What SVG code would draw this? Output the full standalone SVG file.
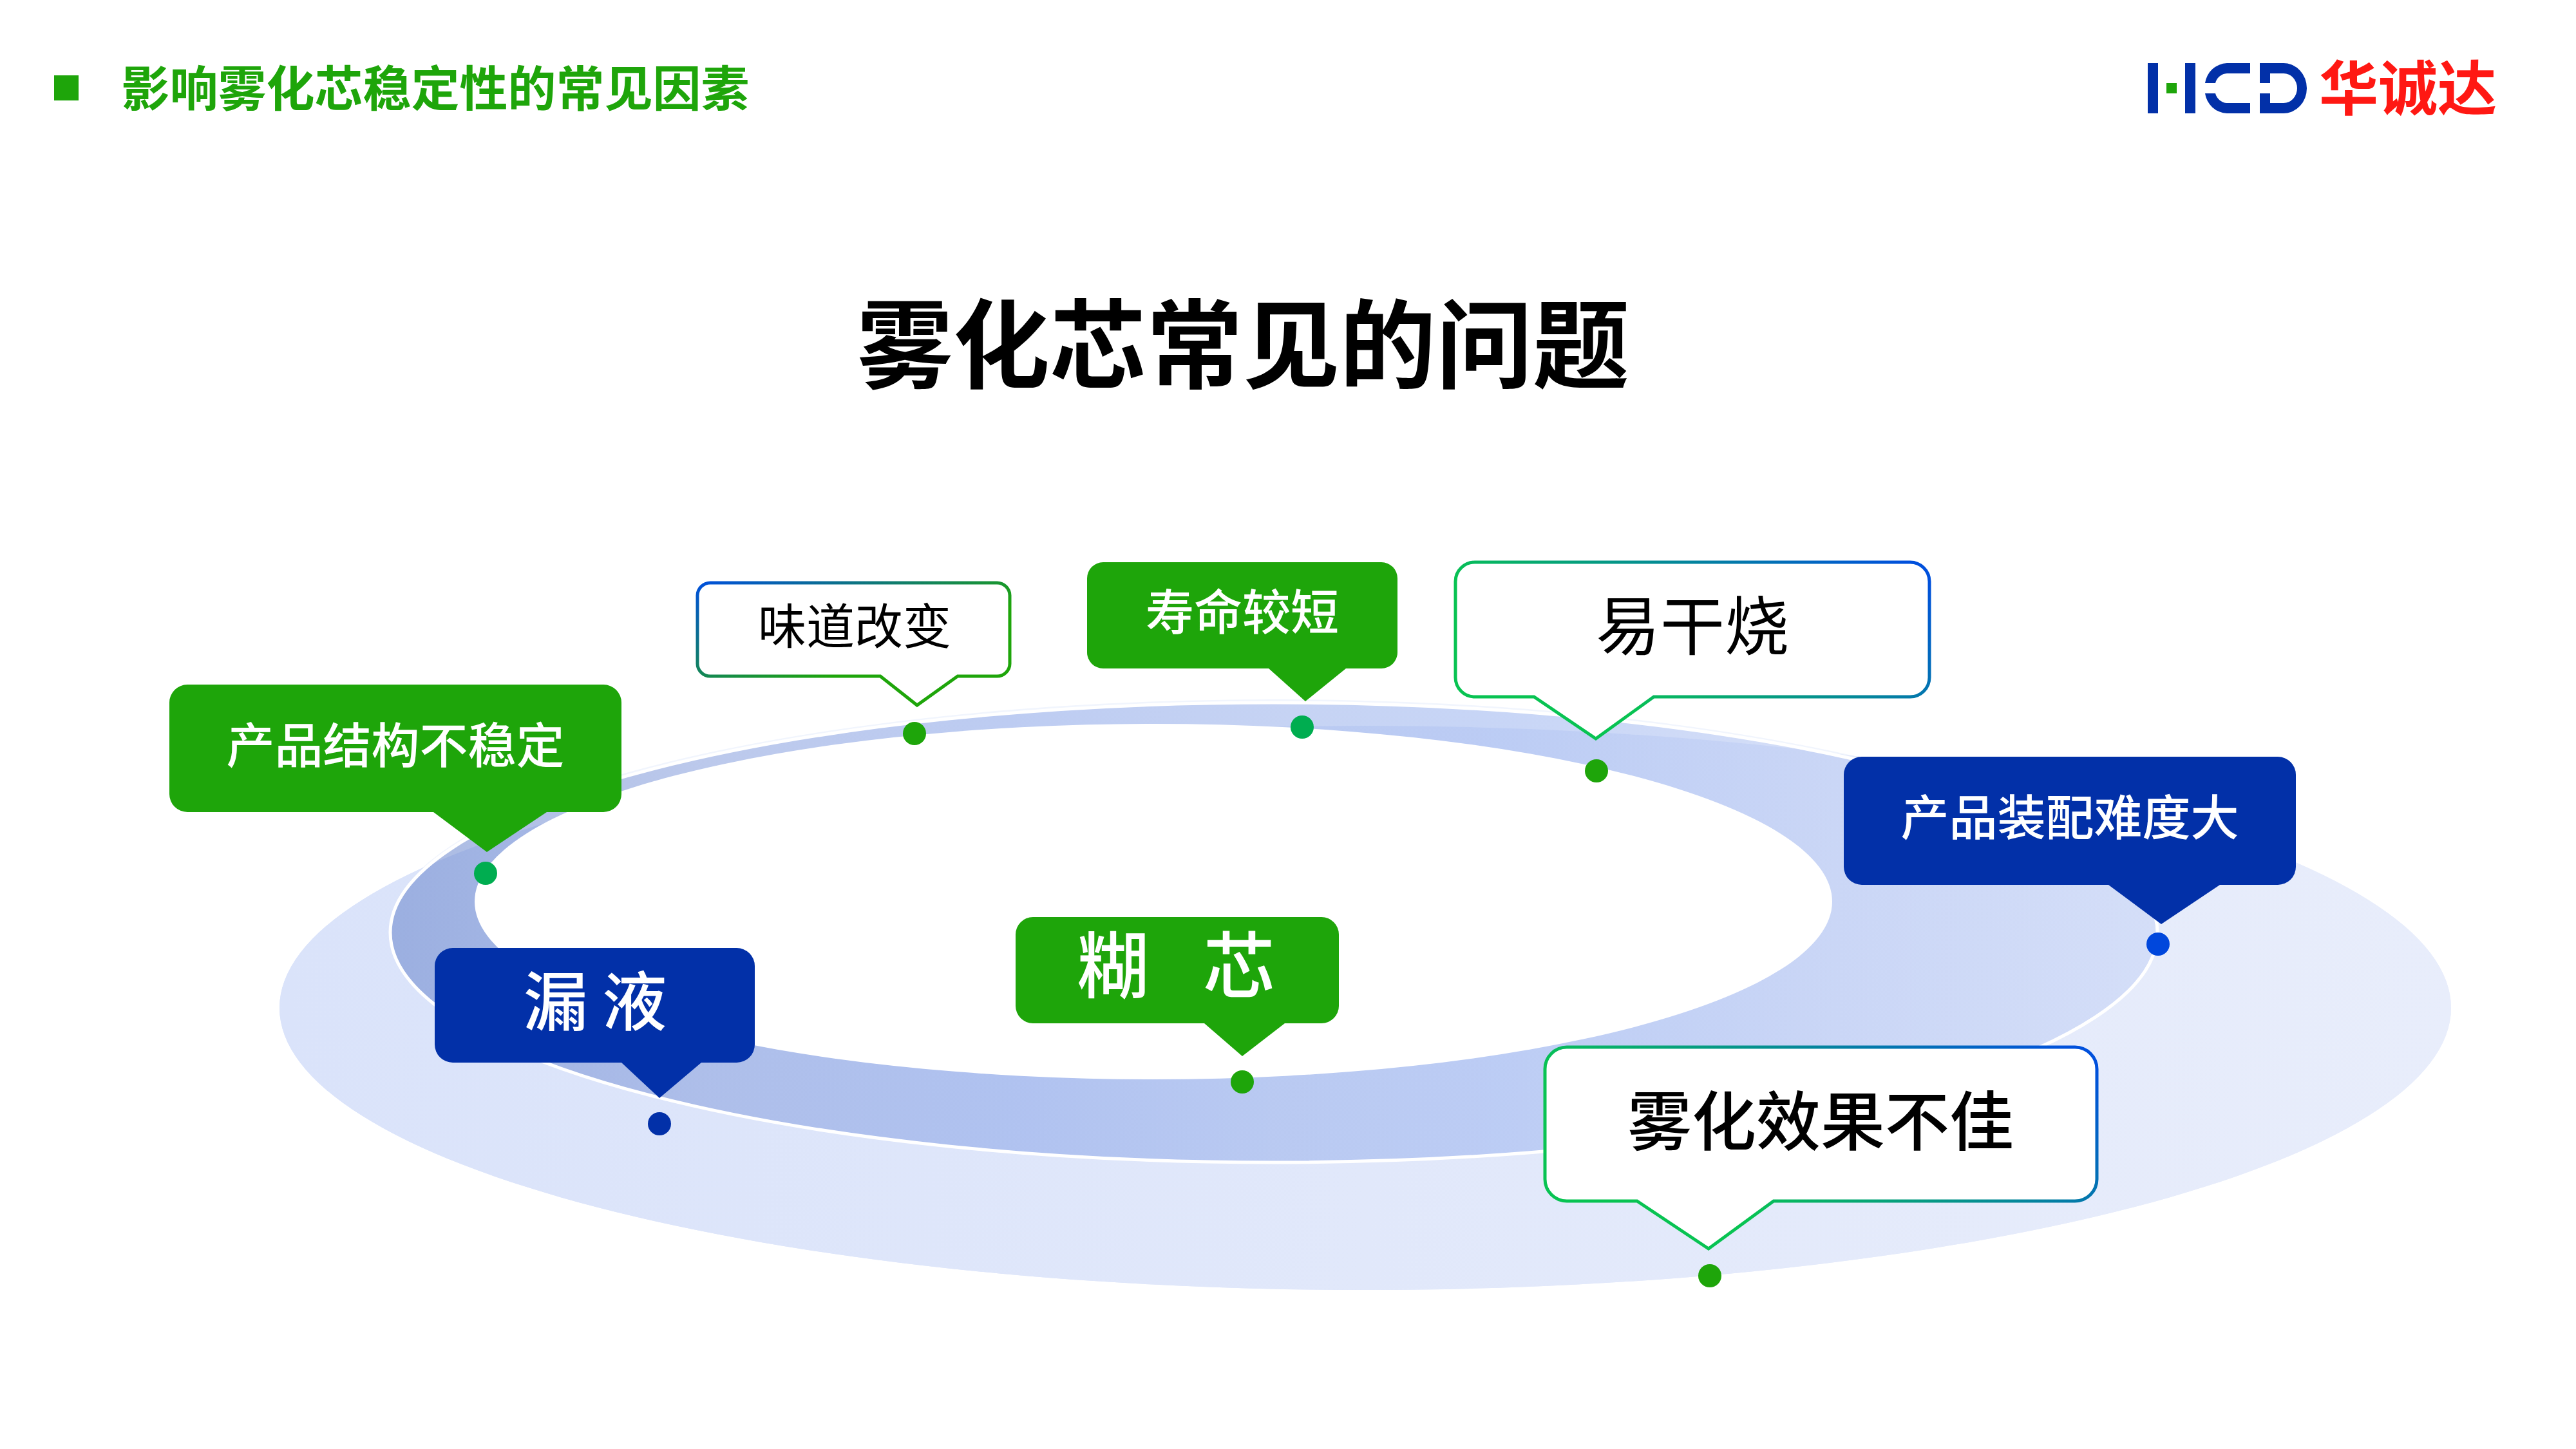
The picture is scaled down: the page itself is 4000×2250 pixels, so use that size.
<svg xmlns="http://www.w3.org/2000/svg" width="4000" height="2250" viewBox="0 0 4000 2250">
<style>
text{font-family:"Noto Sans CJK SC","Liberation Sans",sans-serif;text-anchor:middle}
.w{fill:#fff;font-weight:500}
.k{fill:#000}
.g{fill:#1ea50a}
.b{fill:#0230a8}
.e{fill:#00ad50}
.logo{fill:#0230a8}
</style>
<defs>
<linearGradient id="outerFill" gradientUnits="userSpaceOnUse" x1="434" y1="0" x2="3806" y2="0"><stop offset="0" stop-color="#dae3fa"/><stop offset="1" stop-color="#e8edfb"/></linearGradient>
<linearGradient id="midFill" gradientUnits="userSpaceOnUse" x1="607" y1="0" x2="3350" y2="0">
<stop offset="0" stop-color="#718ccf" stop-opacity=".6"/><stop offset=".18" stop-color="#8fa5df" stop-opacity=".6"/><stop offset=".35" stop-color="#91aae9" stop-opacity=".6"/><stop offset=".51" stop-color="#a0b6ec" stop-opacity=".6"/><stop offset=".62" stop-color="#a2b9f0" stop-opacity=".6"/><stop offset=".82" stop-color="#b9c9f3" stop-opacity=".6"/><stop offset="1" stop-color="#c8d5f6" stop-opacity=".6"/></linearGradient>
<linearGradient id="strokeA" x1="0" y1="0" x2=".6" y2=".6"><stop offset="0" stop-color="#0050dc"/><stop offset="1" stop-color="#1ea50a"/></linearGradient>
<linearGradient id="strokeB" x1=".2" y1=".5" x2="1" y2=".1"><stop offset="0" stop-color="#08c352"/><stop offset="1" stop-color="#0050dc"/></linearGradient>
</defs>
<g id="header">
<rect class="g" x="84" y="117" width="38" height="39"/>
<text x="676" y="165" font-size="75" font-weight="700" class="g">影响雾化芯稳定性的常见因素</text>
</g>
<g id="logo">
<rect class="logo" x="3335" y="98" width="16" height="78"/>
<rect class="logo" x="3393" y="98" width="16" height="78"/>
<rect class="g" x="3364" y="129" width="16" height="16"/>
<path class="logo" d="M3494 98H3458A36 36 0 0 0 3424 129H3440A20 20 0 0 1 3458 114H3494ZM3494 176H3458A36 36 0 0 1 3424 145H3440A20 20 0 0 0 3458 160H3494Z"/>
<path class="logo" d="M3509 98H3546A36 39 0 0 1 3546 176H3509V145H3525V160H3546A21 23 0 0 0 3546 114H3525V129H3509Z"/>
<text x="3739" y="171" font-size="92" font-weight="700" fill="#ff1813">华诚达</text>
</g>
<text id="title" x="1930" y="591" font-size="150" font-weight="700" fill="#000">雾化芯常见的问题</text>
<g id="rings">
<ellipse cx="1978" cy="1443" rx="1372" ry="357" fill="#f1f5fd"/>
<ellipse cx="2120" cy="1565" rx="1686" ry="438" fill="url(#outerFill)"/>
<ellipse cx="1978" cy="1448" rx="1372" ry="357" fill="#fff"/>
<path d="M434 1565A1686 438 0 0 1 3806 1565A1686 438 0 0 1 434 1565Z" fill="url(#outerFill)"/>
<ellipse cx="1978" cy="1448" rx="1372" ry="357" fill="url(#midFill)" stroke="#fff" stroke-width="5"/>
<ellipse cx="1791" cy="1400" rx="1054" ry="276" fill="#fff"/>
</g>
<g id="node-stability">
<path class="g" d="M291 1063H937A28 28 0 0 1 965 1091V1233A28 28 0 0 1 937 1261H849L756 1323L673 1261H291A28 28 0 0 1 263 1233V1091A28 28 0 0 1 291 1063Z"/>
<text class="w" x="614" y="1185" font-size="75">产品结构不稳定</text>
<circle class="e" cx="754" cy="1356" r="18"/>
</g>
<g id="node-taste">
<path fill="#fff" stroke="url(#strokeA)" stroke-width="5" d="M1104 905H1547A20 20 0 0 1 1568 926V1029A20 20 0 0 1 1547 1050H1487L1424 1095L1367 1050H1104A20 20 0 0 1 1083 1029V926A20 20 0 0 1 1104 905Z"/>
<text class="k" x="1327" y="1000" font-size="75">味道改变</text>
<circle class="g" cx="1420" cy="1139" r="18"/>
</g>
<g id="node-life">
<path class="g" d="M1713 873H2145A25 25 0 0 1 2170 898V1013A25 25 0 0 1 2145 1038H2090L2027 1089L1970 1038H1713A25 25 0 0 1 1688 1013V898A25 25 0 0 1 1713 873Z"/>
<text class="w" x="1929" y="978" font-size="75">寿命较短</text>
<circle class="e" cx="2022" cy="1129" r="18"/>
</g>
<g id="node-dryburn">
<path fill="#fff" stroke="url(#strokeB)" stroke-width="5" d="M2290 873H2966A30 30 0 0 1 2996 903V1052A30 30 0 0 1 2966 1082H2568L2478 1147L2382 1082H2290A30 30 0 0 1 2260 1052V903A30 30 0 0 1 2290 873Z"/>
<text class="k" x="2628" y="1009" font-size="100">易干烧</text>
<circle class="g" cx="2479" cy="1197" r="18"/>
</g>
<g id="node-assembly">
<path class="b" d="M2891 1175H3537A28 28 0 0 1 3565 1203V1346A28 28 0 0 1 3537 1374H3447L3356 1435L3274 1374H2891A28 28 0 0 1 2863 1346V1203A28 28 0 0 1 2891 1175Z"/>
<text class="w" x="3214" y="1297" font-size="75">产品装配难度大</text>
<circle cx="3351" cy="1466" r="18" fill="#0047dc"/>
</g>
<g id="node-leak">
<path class="b" d="M703 1472H1144A28 28 0 0 1 1172 1500V1622A28 28 0 0 1 1144 1650H1089L1024 1705L965 1650H703A28 28 0 0 1 675 1622V1500A28 28 0 0 1 703 1472Z"/>
<text class="w" x="924" y="1592" font-size="100">漏 液</text>
<circle class="b" cx="1024" cy="1745" r="18"/>
</g>
<g id="node-paste">
<path class="g" d="M1604 1424H2052A27 27 0 0 1 2079 1451V1562A27 27 0 0 1 2052 1589H1995L1929 1640L1870 1589H1604A27 27 0 0 1 1577 1562V1451A27 27 0 0 1 1604 1424Z"/>
<text class="w" x="1826" y="1541" font-size="112" word-spacing="59">糊 芯</text>
<circle class="g" cx="1929" cy="1680" r="18"/>
</g>
<g id="node-atomize">
<path fill="#fff" stroke="url(#strokeB)" stroke-width="5" d="M2433 1626H3222A34 34 0 0 1 3256 1660V1831A34 34 0 0 1 3222 1865H2754L2653 1939L2542 1865H2433A34 34 0 0 1 2399 1831V1660A34 34 0 0 1 2433 1626Z"/>
<text class="k" x="2827" y="1778" font-size="100" font-weight="500">雾化效果不佳</text>
<circle class="g" cx="2655" cy="1981" r="18"/>
</g>
</svg>
